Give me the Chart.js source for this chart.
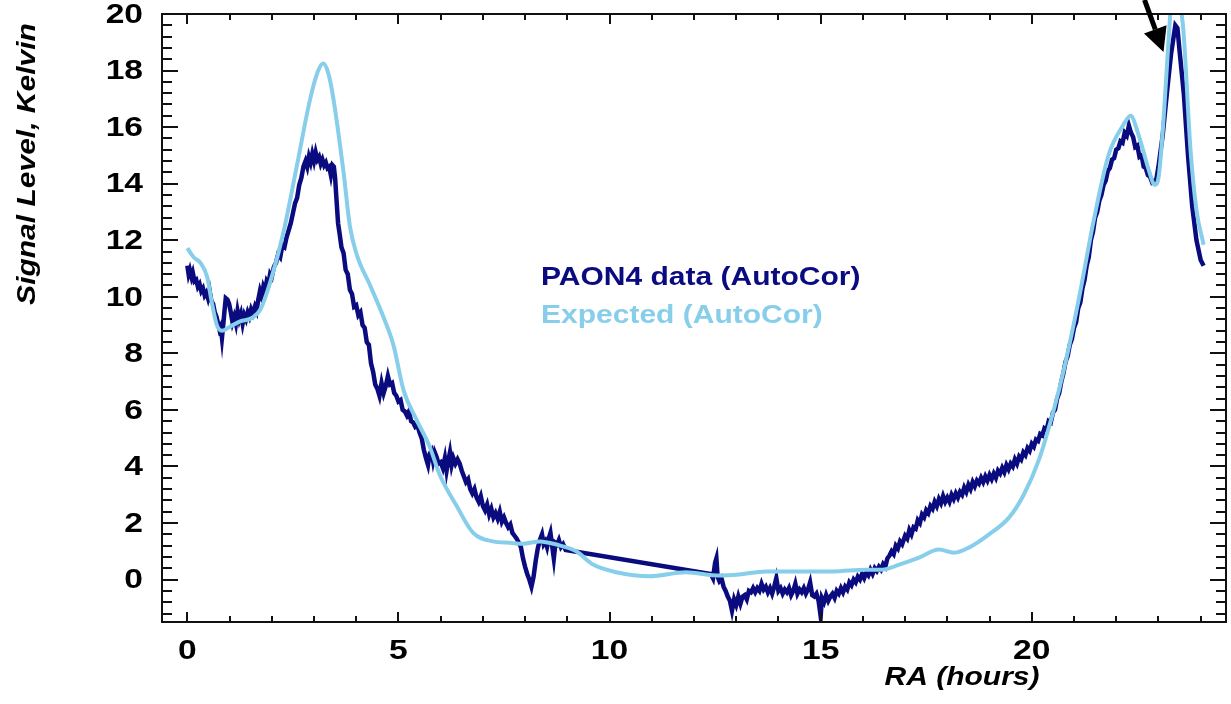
<!DOCTYPE html>
<html>
<head>
<meta charset="utf-8">
<title>PAON4 AutoCor vs expected</title>
<script src="https://cdn.jsdelivr.net/npm/chart.js@4.4.1/dist/chart.umd.min.js"></script>
<style>
  html, body { margin: 0; padding: 0; background: #fff; }
  #wrap { width: 1231px; height: 704px; position: relative; }
</style>
</head>
<body>
<div id="wrap"><canvas id="raChart"></canvas></div>
<script>
// ---------------- DATA ----------------
// PAON4 auto-correlation, RA in hours / signal in Kelvin
const paonRA = [
  0.00, 0.03, 0.06, 0.10, 0.13, 0.17, 0.21, 0.25, 0.29, 0.33, 0.37, 0.41, 0.45, 0.49, 0.53, 0.57,
  0.61, 0.65, 0.69, 0.73, 0.76, 0.79, 0.82, 0.85, 0.88, 0.91, 0.95, 0.99, 1.03, 1.07, 1.11, 1.15,
  1.19, 1.23, 1.27, 1.31, 1.35, 1.39, 1.43, 1.47, 1.51, 1.55, 1.60, 1.64, 1.68, 1.72, 1.76, 1.80,
  1.84, 1.88, 1.92, 1.96, 2.00, 2.05, 2.10, 2.15, 2.20, 2.25, 2.30, 2.35, 2.40, 2.45, 2.50, 2.55,
  2.60, 2.65, 2.70, 2.75, 2.80, 2.84, 2.88, 2.92, 2.96, 3.00, 3.04, 3.08, 3.12, 3.16, 3.20, 3.24,
  3.28, 3.32, 3.36, 3.40, 3.44, 3.47, 3.50, 3.53, 3.57, 3.61, 3.65, 3.70, 3.75, 3.80, 3.85, 3.90,
  3.95, 4.00, 4.05, 4.10, 4.15, 4.20, 4.25, 4.30, 4.35, 4.40, 4.45, 4.50, 4.55, 4.60, 4.65, 4.70,
  4.75, 4.80, 4.85, 4.90, 4.95, 5.00, 5.05, 5.10, 5.15, 5.20, 5.25, 5.30, 5.35, 5.40, 5.45, 5.50,
  5.55, 5.60, 5.65, 5.70, 5.74, 5.78, 5.82, 5.86, 5.90, 5.95, 6.00, 6.05, 6.10, 6.14, 6.18, 6.22,
  6.26, 6.30, 6.35, 6.40, 6.45, 6.50, 6.55, 6.60, 6.65, 6.70, 6.75, 6.80, 6.85, 6.90, 6.95, 7.00,
  7.05, 7.10, 7.15, 7.20, 7.25, 7.30, 7.35, 7.40, 7.45, 7.50, 7.55, 7.60, 7.65, 7.70, 7.75, 7.80,
  7.85, 7.90, 7.95, 8.00, 8.05, 8.10, 8.15, 8.20, 8.25, 8.30, 8.35, 8.40, 8.44, 8.48, 8.52, 8.56,
  8.60, 8.64, 8.68, 8.72, 8.76, 8.80, 8.85, 8.90, 8.96,
  12.40, 12.45, 12.50, 12.53, 12.56, 12.60, 12.65, 12.70, 12.75, 12.80, 12.85, 12.90, 12.95, 13.00,
  13.05, 13.10, 13.15, 13.20, 13.25, 13.30, 13.35, 13.40, 13.45, 13.50, 13.55, 13.60, 13.65, 13.70,
  13.75, 13.80, 13.85, 13.90, 13.95, 14.00, 14.05, 14.10, 14.15, 14.20, 14.25, 14.30, 14.35, 14.40,
  14.45, 14.50, 14.55, 14.60, 14.65, 14.70, 14.75, 14.80, 14.85, 14.90, 14.95, 15.00, 15.03, 15.08,
  15.13, 15.18, 15.23, 15.28, 15.33, 15.38, 15.43, 15.48, 15.53, 15.58, 15.63, 15.68, 15.73, 15.78,
  15.83, 15.88, 15.93, 15.98, 16.03, 16.08, 16.13, 16.18, 16.23, 16.28, 16.33, 16.38, 16.43, 16.48,
  16.53, 16.58, 16.63, 16.68, 16.73, 16.78, 16.83, 16.88, 16.93,
  17.00, 17.05, 17.10, 17.15, 17.20, 17.25, 17.30, 17.35, 17.40, 17.45, 17.50, 17.55, 17.60, 17.65,
  17.70, 17.75, 17.80, 17.85, 17.90, 17.95, 18.00, 18.05, 18.10, 18.15, 18.20, 18.25, 18.30, 18.35,
  18.40, 18.45, 18.50, 18.55, 18.60, 18.65, 18.70, 18.75, 18.80, 18.85, 18.90, 18.95, 19.00, 19.05,
  19.10, 19.15, 19.20, 19.25, 19.30, 19.35, 19.40, 19.45, 19.50, 19.55, 19.60, 19.65, 19.70, 19.75,
  19.80, 19.85, 19.90, 19.95, 20.00, 20.05, 20.10, 20.15, 20.20, 20.25, 20.30, 20.35, 20.40, 20.45,
  20.50, 20.55, 20.60, 20.65, 20.70, 20.75, 20.80, 20.85, 20.90, 20.95, 21.00, 21.05, 21.10, 21.15,
  21.20, 21.25, 21.30, 21.35, 21.40, 21.45, 21.50, 21.55, 21.60, 21.65, 21.70, 21.75, 21.80, 21.85,
  21.90, 21.95, 22.00, 22.05, 22.10, 22.15, 22.20, 22.25, 22.30, 22.35, 22.40, 22.45, 22.50, 22.55,
  22.60, 22.65, 22.70, 22.75, 22.80, 22.85, 22.90, 22.95, 23.00, 23.10, 23.20, 23.30, 23.40, 23.45,
  23.50, 23.60, 23.70, 23.80, 23.90, 24.00, 24.07
];
const paonK = [
  11.10, 10.80, 10.95, 10.70, 10.85, 10.55, 10.60, 10.35, 10.45, 10.20, 10.30, 10.05, 10.15, 9.95, 10.20, 9.85,
  9.75, 9.45, 9.30, 9.05, 8.85, 8.95, 8.55, 9.00, 9.50, 9.95, 9.90, 9.75, 9.45, 9.10, 9.30, 9.05,
  9.50, 9.20, 9.40, 9.05, 9.35, 9.20, 9.45, 9.30, 9.55, 9.40, 9.65, 9.50, 9.90, 10.20, 10.00, 10.35,
  10.20, 10.55, 10.45, 10.80, 10.70, 11.05, 11.20, 11.50, 11.40, 11.80, 11.75, 12.10, 12.35, 12.60, 12.95, 13.30,
  13.50, 13.95, 14.20, 14.60, 14.80, 14.60, 14.95, 14.75, 15.05, 14.80, 15.10, 14.85, 14.95, 14.70, 14.85, 14.65,
  14.75, 14.55, 14.60, 14.30, 14.65, 14.60, 14.20, 13.50, 12.60, 12.20, 11.75, 11.55, 10.95, 10.80, 10.25, 10.10,
  9.65, 9.70, 9.35, 9.45, 9.00, 8.90, 8.40, 8.30, 7.65, 7.35, 6.90, 6.75, 6.50, 6.95, 6.60, 6.85,
  7.20, 6.90, 6.95, 6.60, 6.50, 6.30, 6.35, 6.00, 5.95, 5.80, 5.95, 5.60, 5.55, 5.40, 5.45, 5.20,
  5.00, 4.60, 4.30, 4.05, 4.45, 4.55, 4.20, 4.50, 4.35, 4.10, 4.15, 3.95, 4.30, 3.85, 4.20, 4.50,
  4.05, 4.30, 4.10, 4.25, 4.10, 3.85, 3.65, 3.45, 3.55, 3.20, 3.05, 3.20, 2.90, 2.75, 2.95, 2.60,
  2.45, 2.65, 2.30, 2.50, 2.20, 2.35, 2.15, 2.40, 2.05, 2.20, 2.00, 1.85, 1.95, 1.65, 1.55, 1.45,
  1.30, 1.15, 0.75, 0.45, 0.20, 0.00, -0.25, 0.10, 0.65, 1.10, 1.40, 1.60, 1.25, 1.35, 1.15, 1.45,
  1.65, 1.20, 0.75, 1.30, 1.25, 1.40, 1.15, 1.25, 1.05,
  0.20, 0.05, 0.60, 0.75, 0.10, -0.05, 0.05, -0.25, -0.40, -0.60, -0.75, -1.10, -0.70, -0.90,
  -0.60, -0.85, -0.60, -0.55, -0.70, -0.40, -0.45, -0.30, -0.45, -0.30, -0.40, -0.15, -0.35, -0.25,
  -0.45, -0.30, -0.50, -0.25, 0.05, -0.40, -0.30, -0.50, -0.35, -0.45, -0.30, -0.55, -0.40, -0.15,
  -0.50, -0.35, -0.45, -0.30, -0.50, -0.35, -0.10, -0.55, -0.60, -0.50, -0.75, -1.30, -0.65, -0.80,
  -0.55, -0.75, -0.60, -0.50, -0.65, -0.40, -0.50, -0.30, -0.45, -0.25, -0.35, -0.10, -0.20, 0.00,
  -0.10, 0.10, 0.00, 0.20, 0.05, 0.25, 0.15, 0.35, 0.20, 0.40, 0.30, 0.45, 0.35, 0.55,
  0.45, 0.75, 0.85, 1.00, 0.90, 1.20, 1.10, 1.35, 1.25,
  1.55, 1.45, 1.75, 1.60, 1.85, 1.80, 2.10, 2.00, 2.30, 2.20, 2.45, 2.35, 2.60, 2.50,
  2.75, 2.60, 2.85, 2.70, 2.95, 2.75, 2.90, 2.75, 3.00, 2.85, 3.05, 2.90, 3.10, 3.00,
  3.25, 3.10, 3.35, 3.20, 3.45, 3.30, 3.50, 3.40, 3.60, 3.45, 3.65, 3.50, 3.70, 3.55,
  3.75, 3.60, 3.85, 3.75, 3.95, 3.80, 4.05, 3.90, 4.10, 4.00, 4.25, 4.10, 4.35, 4.25,
  4.50, 4.40, 4.65, 4.55, 4.80, 4.70, 4.95, 4.90, 5.15, 5.10, 5.35, 5.30, 5.60, 5.55,
  5.90, 6.00, 6.40, 6.60, 7.00, 7.30, 7.70, 7.90, 8.30, 8.50, 8.90, 9.10, 9.60, 9.80,
  10.30, 10.60, 11.10, 11.40, 12.00, 12.30, 12.80, 13.00, 13.40, 13.60, 13.95, 14.10, 14.45, 14.55,
  14.85, 14.90, 15.20, 15.25, 15.50, 15.45, 15.80, 15.70, 16.05, 15.80, 15.65, 15.30, 15.35, 14.95,
  15.00, 14.60, 14.55, 14.30, 14.25, 14.05, 14.10, 14.15, 14.60, 15.70, 17.20, 18.60, 19.60, 19.50,
  18.70, 17.20, 15.00, 13.20, 12.00, 11.30, 11.10
];

// Expected auto-correlation (sky model)
const expRA = [
  0.00, 0.15, 0.31, 0.47, 0.58, 0.70, 0.82, 1.02, 1.25, 1.53, 1.73, 1.96, 2.28, 2.59, 2.91, 3.10,
  3.22, 3.34, 3.46, 3.70, 3.85, 4.01, 4.33, 4.64, 4.88, 5.12, 5.43, 5.74, 5.98, 6.38, 6.77, 7.24,
  7.64, 7.95, 8.35, 8.74, 9.21, 9.61, 10.16, 10.95, 11.81, 12.60, 13.07, 13.70, 14.49, 15.28, 16.07, 16.46,
  16.86, 17.33, 17.80, 18.16, 18.51, 18.98, 19.46, 19.81, 20.17, 20.52, 20.76, 21.11, 21.47, 21.82, 22.17, 22.34,
  22.53, 22.77, 22.91, 23.00, 23.12, 23.24, 23.37, 23.50, 23.59, 23.76, 23.90, 24.07
];
const expK = [
  11.72, 11.40, 11.20, 10.70, 9.80, 9.00, 8.80, 8.95, 9.13, 9.25, 9.55, 10.50, 12.30, 14.60, 17.00, 18.00,
  18.25, 17.90, 17.00, 14.40, 12.50, 11.50, 10.40, 9.30, 8.30, 6.70, 5.65, 4.70, 3.70, 2.60, 1.65, 1.35,
  1.30, 1.27, 1.35, 1.24, 1.00, 0.53, 0.26, 0.12, 0.26, 0.14, 0.18, 0.29, 0.29, 0.29, 0.35, 0.35,
  0.53, 0.78, 1.06, 0.95, 1.13, 1.59, 2.19, 3.00, 4.24, 6.00, 7.42, 9.89, 12.72, 15.02, 16.08, 16.40,
  15.72, 14.49, 13.96, 14.20, 16.25, 19.08, 21.50, 20.50, 19.43, 15.19, 13.07, 11.84
];

// axis tick labels
const xTicks = [0, 5, 10, 15, 20];
const yTicks = [0, 2, 4, 6, 8, 10, 12, 14, 16, 18, 20];

// arrow pointing at the peak near 23h (RA, K)
const arrowFrom = [22.67, 20.5];
const arrowTo = [23.12, 18.66];

const NAVY = "#0b0b80";
const SKY = "#87ceeb";
const FONT = "'Liberation Sans', Arial, Helvetica, sans-serif";
const WIDE = 1.2;   // labels use a wide bold face

const toPoints = (xs, ys) => xs.map((x, i) => ({ x: x, y: ys[i] }));

// draw text stretched horizontally (along the reading direction)
function wideText(ctx, txt, x, y, align, angle) {
  ctx.save();
  ctx.translate(x, y);
  if (angle) ctx.rotate(angle);
  ctx.scale(WIDE, 1);
  ctx.textAlign = align;
  ctx.textBaseline = "middle";
  ctx.fillText(txt, 0, 0);
  ctx.restore();
}


// ---------------- FRAME + INWARD TICKS ----------------
const frameTicks = {
  id: "frameTicks",
  afterDatasetsDraw(chart) {
    const { ctx, chartArea: a, scales: { x, y } } = chart;
    ctx.save();
    ctx.strokeStyle = "#111";
    ctx.lineWidth = 2;
    ctx.strokeRect(a.left, a.top, a.right - a.left, a.bottom - a.top);

    ctx.beginPath();
    // RA: minor tick every hour, long one every 5 h
    for (let h = 0; h <= 24; h++) {
      const px = Math.round(x.getPixelForValue(h));
      const len = h % 5 === 0 ? 10 : 6;
      ctx.moveTo(px, a.bottom); ctx.lineTo(px, a.bottom - len);
      ctx.moveTo(px, a.top); ctx.lineTo(px, a.top + len);
    }
    // Kelvin: minor tick every 0.4 K, long one every 2 K
    for (let i = -3; i <= 50; i++) {
      const py = Math.round(y.getPixelForValue(i * 0.4));
      const len = i % 5 === 0 ? 16 : 10;
      ctx.moveTo(a.left, py); ctx.lineTo(a.left + len, py);
      ctx.moveTo(a.right, py); ctx.lineTo(a.right - len, py);
    }
    ctx.stroke();

    // tick labels
    ctx.fillStyle = "#000";
    ctx.font = "bold 28px " + FONT;
    xTicks.forEach(v => wideText(ctx, String(v), x.getPixelForValue(v), a.bottom + 29, "center"));
    yTicks.forEach(v => wideText(ctx, String(v), a.left - 19, y.getPixelForValue(v) + 1, "right"));
    ctx.restore();
  }
};


// ---------------- TITLES, LEGEND TEXT, ARROW ----------------
const annotations = {
  id: "annotations",
  afterDraw(chart) {
    const { ctx, scales: { x, y } } = chart;
    ctx.save();

    // axis titles
    ctx.fillStyle = "#000";
    ctx.font = "italic bold 25px " + FONT;
    wideText(ctx, "RA (hours)", 962, 678, "center");
    wideText(ctx, "Signal Level, Kelvin", 28, 164, "center", -Math.PI / 2);

    // legend
    ctx.font = "bold 25px " + FONT;
    ctx.fillStyle = NAVY;
    wideText(ctx, "PAON4 data (AutoCor)", 541, 278, "left");
    ctx.fillStyle = SKY;
    wideText(ctx, "Expected (AutoCor)", 541, 316, "left");

    // arrow
    const x0 = x.getPixelForValue(arrowFrom[0]), y0 = y.getPixelForValue(arrowFrom[1]);
    const x1 = x.getPixelForValue(arrowTo[0]), y1 = y.getPixelForValue(arrowTo[1]);
    const ang = Math.atan2(y1 - y0, x1 - x0);
    const head = 24, half = 12;
    const bx = x1 - head * Math.cos(ang), by = y1 - head * Math.sin(ang);
    ctx.strokeStyle = "#000";
    ctx.lineWidth = 5;
    ctx.beginPath();
    ctx.moveTo(x0, y0);
    ctx.lineTo(bx, by);
    ctx.stroke();
    ctx.fillStyle = "#000";
    ctx.beginPath();
    ctx.moveTo(x1, y1);
    ctx.lineTo(bx + half * Math.sin(ang), by - half * Math.cos(ang));
    ctx.lineTo(bx - half * Math.sin(ang), by + half * Math.cos(ang));
    ctx.closePath();
    ctx.fill();

    ctx.restore();
  }
};


// ---------------- CHART ----------------
new Chart(document.getElementById("raChart"), {
  type: "line",
  data: {
    datasets: [
      {
        label: "Expected (AutoCor)",
        data: toPoints(expRA, expK),
        borderColor: SKY,
        borderWidth: 4,
        pointRadius: 0,
        cubicInterpolationMode: "monotone",
        order: 0
      },
      {
        label: "PAON4 data (AutoCor)",
        data: toPoints(paonRA, paonK),
        borderColor: NAVY,
        borderWidth: 4.5,
        pointRadius: 0,
        tension: 0,
        order: 1
      }
    ]
  },
  options: {
    responsive: true,
    maintainAspectRatio: false,
    animation: false,
    devicePixelRatio: 1,
    layout: { padding: { top: 14, right: 5, left: 0, bottom: 0 } },
    plugins: {
      legend: { display: false },
      tooltip: { enabled: false }
    },
    scales: {
      x: {
        type: "linear",
        min: -0.6,
        max: 24.6,
        grid: { display: false, drawTicks: false },
        border: { display: false },
        ticks: { display: false },
        afterBuildTicks: (s) => { s.ticks = xTicks.map(v => ({ value: v })); },
        afterFit: (s) => { s.height = 82; s.paddingLeft = 0; s.paddingRight = 0; }
      },
      y: {
        type: "linear",
        min: -1.5,
        max: 20,
        grid: { display: false, drawTicks: false },
        border: { display: false },
        ticks: { display: false },
        afterBuildTicks: (s) => { s.ticks = yTicks.map(v => ({ value: v })); },
        afterFit: (s) => { s.width = 162; s.paddingTop = 0; s.paddingBottom = 0; }
      }
    }
  },
  plugins: [frameTicks, annotations]
});
</script>
</body>
</html>
